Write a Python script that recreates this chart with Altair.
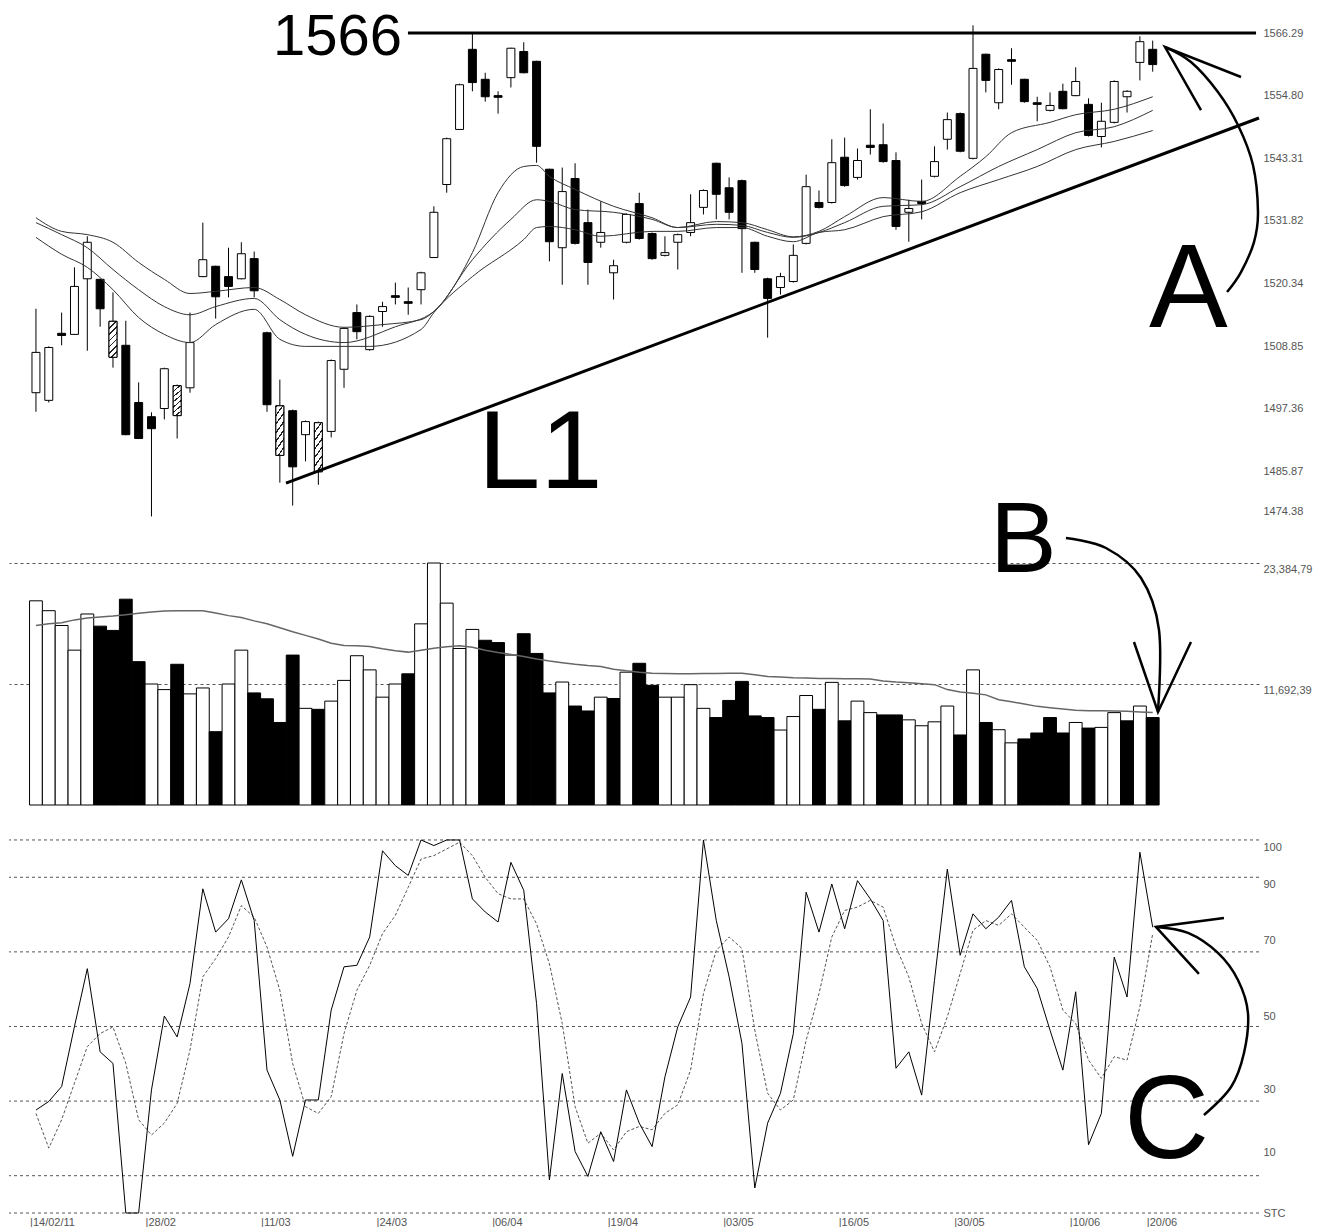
import altair as alt
import pandas as pd

# ---------------- data ----------------
N = 88
bar_idx = list(range(N))

opens = [1500.3,1498.9,1511.2,1511.0,1521.2,1521.1,1513.4,1509.0,1498.5,1495.9,
         1497.4,1501.6,1501.2,1521.6,1523.5,1521.6,1521.2,1524.9,1511.3,1497.9,
         1497.0,1492.6,1494.8,1493.2,1504.6,1515.0,1508.2,1515.2,1518.1,1517.0,
         1519.2,1525.1,1538.5,1548.6,1563.3,1557.8,1554.8,1558.1,1562.9,1561.1,
         1541.3,1526.9,1539.6,1531.5,1527.9,1522.3,1527.9,1535.0,1529.5,1525.5,
         1527.9,1529.7,1534.3,1542.4,1537.9,1539.2,1527.9,1521.2,1519.6,1520.7,
         1527.7,1535.2,1535.2,1543.5,1539.8,1545.7,1545.8,1542.9,1533.4,1535.4,
         1540.0,1546.8,1551.5,1543.3,1562.4,1553.5,1561.4,1557.8,1553.5,1552.1,
         1555.6,1554.8,1553.2,1547.3,1549.9,1554.6,1560.9,1563.3]
closes = [1507.7,1508.6,1510.8,1519.8,1527.9,1515.7,1506.8,1492.6,1491.9,1493.7,
          1504.7,1496.1,1509.5,1524.7,1517.9,1519.8,1525.8,1519.0,1498.1,1488.8,
          1486.7,1495.0,1485.8,1506.2,1512.1,1511.5,1514.3,1516.1,1517.8,1516.7,
          1522.3,1533.4,1546.9,1556.8,1557.2,1554.6,1554.5,1563.5,1559.0,1545.5,
          1528.0,1537.2,1527.7,1524.2,1529.7,1523.6,1533.0,1528.6,1524.9,1526.0,
          1529.3,1531.5,1537.4,1536.7,1533.4,1530.4,1522.9,1517.6,1521.6,1525.5,
          1538.1,1534.3,1542.5,1538.3,1542.9,1545.3,1542.7,1530.8,1534.1,1535.0,
          1542.7,1550.4,1544.6,1559.8,1557.6,1559.6,1561.1,1553.7,1553.2,1553.0,
          1552.4,1557.4,1547.5,1550.1,1557.4,1555.6,1564.7,1560.5]
highs = [1515.7,1508.8,1515.0,1523.3,1529.0,1521.2,1518.7,1513.5,1502.2,1496.7,
         1504.9,1501.8,1515.0,1531.5,1523.6,1526.9,1527.9,1526.2,1511.5,1502.7,
         1497.2,1495.2,1495.0,1506.4,1512.3,1516.5,1514.5,1517.0,1520.5,1519.6,
         1522.5,1534.5,1547.1,1557.0,1566.3,1559.0,1555.6,1563.6,1564.6,1561.2,
         1541.4,1541.6,1542.4,1533.9,1535.4,1524.7,1533.2,1537.0,1529.7,1529.0,
         1529.5,1536.7,1537.6,1542.5,1539.8,1539.4,1528.0,1521.4,1522.3,1527.5,
         1540.3,1537.4,1546.8,1547.1,1545.1,1552.3,1549.7,1544.4,1535.7,1539.4,
         1545.5,1551.7,1551.7,1567.7,1562.5,1559.8,1563.5,1557.9,1554.6,1555.4,
         1557.0,1560.0,1554.3,1553.5,1557.6,1555.8,1565.7,1564.9]
lows = [1496.8,1498.5,1509.0,1510.9,1508.0,1512.4,1504.9,1492.5,1491.8,1477.6,
        1495.4,1491.9,1500.3,1521.5,1513.9,1517.8,1521.1,1517.8,1496.8,1483.8,
        1479.6,1487.7,1483.4,1492.1,1501.2,1510.1,1508.0,1512.4,1516.5,1514.6,
        1516.5,1525.0,1537.0,1548.5,1555.6,1553.7,1551.5,1556.3,1558.9,1542.5,
        1524.4,1520.1,1527.5,1520.1,1526.9,1517.4,1527.7,1528.4,1524.7,1525.3,
        1522.9,1529.0,1533.0,1532.1,1532.1,1522.3,1522.3,1510.4,1518.3,1520.5,
        1527.5,1534.1,1535.0,1538.1,1539.4,1544.0,1542.5,1530.2,1528.0,1532.1,
        1539.8,1544.9,1544.4,1543.1,1555.4,1552.3,1556.8,1553.5,1550.1,1551.9,
        1552.3,1554.7,1547.3,1545.3,1549.7,1551.7,1557.6,1559.2]
# w = white (up), b = black (down), h = hatched
candle_kind = list("wwbwwbhbbb" "whwwbbwbbh" "bwhwwbwwbb" "wwwwbbbwbb" "bwbbwwwbbw"
                   "wwwbbbbbww" "wbwbwbbbwb" "wwbwbwbbbw" "bwbwwwwb")

# three moving averages on the price panel (bar index, value)
ma1_idx = [0,2,4,6,8,10,12,14,17,19,21,24,27,30,31,34,36,38,39,40,42,45,48,50,53,55,57,59,61,63,66,69,72,74,76,79,81,84,87]
ma1_val = [1532.4,1529.9,1529.3,1527.9,1524.2,1521.1,1518.5,1518.9,1519.6,1517.4,1514.6,1512.3,1512.8,1513.7,1515.2,
           1526.0,1537.0,1541.8,1542.0,1540.0,1537.6,1534.5,1532.4,1530.6,1531.7,1531.5,1530.2,1528.9,1529.9,1532.6,
           1536.1,1535.4,1540.0,1543.6,1548.0,1549.9,1551.3,1552.3,1554.6]
ma2_idx = [0,2,4,6,8,10,12,14,17,19,21,24,28,31,34,37,39,40,42,45,48,50,53,55,57,59,61,63,66,69,72,75,78,81,84,87]
ma2_val = [1531.5,1529.3,1526.9,1522.9,1519.2,1516.1,1514.6,1516.1,1517.6,1513.7,1511.0,1509.5,1512.4,1515.2,1524.7,
           1532.1,1535.7,1535.4,1533.9,1533.4,1532.1,1530.6,1531.2,1531.0,1529.7,1528.8,1529.7,1531.5,1534.5,1534.8,
           1538.1,1541.8,1544.9,1548.0,1549.1,1552.1]
ma3_idx = [0,2,4,6,8,10,12,14,17,19,21,26,30,31,34,38,39,40,42,44,48,50,53,55,57,59,61,63,66,69,72,75,78,81,84,87]
ma3_val = [1528.8,1525.7,1523.3,1519.2,1514.1,1511.0,1509.5,1512.8,1515.6,1510.1,1508.8,1508.8,1511.9,1515.0,1521.6,
           1528.4,1530.6,1530.8,1530.2,1529.0,1529.9,1529.9,1530.6,1530.6,1529.0,1528.0,1529.7,1530.2,1532.6,1533.5,
           1537.0,1539.4,1541.8,1544.9,1546.4,1548.4]

volume = [19730,18776,17346,14964,18458,17283,16870,19888,13852,11692,
          11151,13598,10738,11310,7085,11692,14964,10833,10262,7974,
          14487,9340,9245,10039,12041,14424,13057,10420,11692,12676,
          17505,23384,19507,15123,16965,15917,15694,14487,16552,14646,
          10833,11882,9563,9086,10420,10293,12835,13693,11564,10421,
          10421,11628,9340,8451,10103,11946,8610,8451,7244,8546,
          10579,9245,11850,8133,10039,8927,8705,8705,8228,7657,
          8038,9563,6767,13057,7974,7275,6005,6386,6958,8451,
          6958,7974,7434,7498,8927,8133,9563,8451]
volume_kind = list("wwwwwbbbbw" "wbwwbwwbbb" "bwbwwwwwwb" "wwwwwbbwbb" "bwbbwbwbbw"
                   "wwwbbbbbww" "wbwbwwbbww" "wwbwbwwbbb" "bwbwwbwb")
volume_ma = [17346,17505,17601,17887,18077,18172,18268,18395,18522,18649,
             18744,18776,18776,18776,18554,18300,18109,17791,17505,17124,
             16743,16393,16044,15631,15408,15377,15313,15091,14900,14773,
             14964,15154,15281,15377,15250,14964,14741,14551,14360,14106,
             13915,13756,13598,13470,13375,13121,12962,12835,12740,12708,
             12676,12676,12708,12708,12740,12740,12581,12422,12359,12295,
             12263,12231,12231,12200,12200,12168,11977,11882,11818,11723,
             11628,11151,10929,10802,10643,10166,9976,9753,9531,9404,
             9277,9150,9118,9118,9086,9054,8991,8927]

stoch_k = [27.6,29.9,33.9,50.0,65.5,43.2,40.1,0.0,0.0,33.0,
           52.8,47.2,61.5,86.9,75.3,78.9,89.3,78.4,38.3,30.3,
           15.2,30.3,30.3,54.4,66.0,66.4,74.0,97.1,93.1,90.5,
           100.0,98.5,100.0,100.0,84.2,80.7,78.0,94.0,86.5,56.1,
           8.9,37.4,16.5,9.8,21.8,13.8,33.0,24.1,17.8,36.5,
           49.9,57.9,100.0,78.4,63.3,45.5,6.7,24.1,32.1,48.1,
           86.0,75.3,88.2,76.2,89.1,84.2,78.4,38.8,43.2,31.6,
           62.4,92.2,69.1,80.2,76.2,79.3,83.8,66.0,60.2,49.0,
           38.3,59.3,18.3,26.7,68.6,57.9,96.7,76.6]
stoch_d = [26.7,17.4,25.0,34.8,44.6,48.1,49.9,40.1,25.0,20.9,
           24.1,29.4,43.7,63.3,68.2,74.0,82.4,79.3,71.3,59.7,
           40.1,28.5,26.7,31.2,48.1,59.7,66.4,74.9,79.8,87.3,
           94.9,95.8,97.6,99.4,95.8,90.0,85.6,84.2,84.2,77.5,
           66.8,50.8,28.5,18.7,21.4,16.9,21.8,23.2,22.3,26.7,
           29.0,38.3,58.8,70.4,74.0,70.9,49.0,32.1,27.6,30.3,
           46.3,58.8,74.0,81.1,82.0,83.8,82.0,71.3,63.3,50.8,
           43.2,52.6,64.2,75.8,78.4,77.1,80.2,76.6,73.1,66.0,
           54.4,50.8,41.0,36.1,41.9,41.0,55.3,74.9]

price_ticks = [1566.29, 1554.80, 1543.31, 1531.82, 1520.34, 1508.85, 1497.36, 1485.87, 1474.38]
volume_ticks = [11692.39, 23384.79]
volume_tick_labels = ["11,692,39", "23,384,79"]
stoch_grid = [0, 10, 30, 50, 70, 90, 100]
# the oscillator labels sit a little off their grid lines in the original
stoch_label_pos = [0, 16.1, 33.0, 52.8, 73.0, 88.0, 97.9]
stoch_label_txt = ["STC", "10", "30", "50", "70", "90", "100"]
date_bars = [0, 9, 18, 27, 36, 45, 54, 63, 72, 81, 87]
date_labels = ["14/02/11", "28/02", "11/03", "24/03", "06/04", "19/04",
               "03/05", "16/05", "30/05", "10/06", "20/06"]

# annotations
resistance = {"x": [28.98], "x2": [95.05], "y": [1566.29]}
trend_L1 = {"x": [19.48], "y": [1483.72], "x2": [95.28], "y2": [1550.70]}
price_texts = {"x": [18.46, 34.43, 86.71], "y": [1562.26, 1482.81, 1512.35],
               "t": ["1566", "L1", "A"], "s": [58, 112, 118]}
arrowA_x = [92.79, 93.88, 94.89, 95.20, 94.81, 93.64, 92.08, 89.98, 87.96]
arrowA_y = [1518.77, 1522.44, 1527.94, 1533.45, 1542.07, 1549.41, 1555.47, 1560.97, 1563.72]
headA_x = [93.88, 87.96, 90.76]
headA_y = [1558.22, 1563.72, 1552.16]

textB = {"x": [74.32], "y": [22515], "t": ["B"]}
arrowB_x = [80.24, 83.36, 86.09, 87.49, 87.41]
arrowB_y = [25800, 24834, 21935, 16910, 8987]
headB_x = [85.54, 87.41, 89.98]
headB_y = [15751, 8987, 15751]

textC = {"x": [84.76], "y": [14.75], "t": ["C"]}
arrowC_x = [90.99, 93.10, 94.11, 94.42, 93.64, 92.08, 89.75, 87.25]
arrowC_y = [26.27, 33.78, 42.90, 53.62, 62.47, 69.71, 75.07, 76.68]
headC_x = [92.55, 87.25, 90.60]
headC_y = [79.09, 76.68, 64.08]

# ---------------- tables ----------------
candles = pd.DataFrame({"idx": bar_idx, "open": opens, "high": highs, "low": lows,
                        "close": closes, "kind": candle_kind})
ma = pd.concat([
    pd.DataFrame({"idx": ma1_idx, "val": ma1_val, "s": "m1"}),
    pd.DataFrame({"idx": ma2_idx, "val": ma2_val, "s": "m2"}),
    pd.DataFrame({"idx": ma3_idx, "val": ma3_val, "s": "m3"}),
])
vol = pd.DataFrame({"idx": bar_idx, "vol": volume, "kind": volume_kind, "ma": volume_ma})
stoch = pd.DataFrame({"idx": bar_idx, "k": stoch_k, "d": stoch_d})
sgrid = pd.DataFrame({"g": stoch_grid})

def curve(xs_, ys_):
    return pd.DataFrame({"x": xs_, "y": ys_, "o": list(range(len(xs_)))})

ANN_FONT = "Liberation Sans, Arial, sans-serif"
LBL_FONT = "Liberation Sans, Arial, sans-serif"

W = 1250
xs = alt.Scale(domain=[-2.1, 95.28], nice=False, zero=False)
ys_p = alt.Scale(domain=[1474.38, 1570.88], nice=False, zero=False)
ys_v = alt.Scale(domain=[0, 23384.79], nice=False, zero=False)
ys_s = alt.Scale(domain=[0, 101.6], nice=False, zero=False)

axis_common = dict(orient="right", title=None, domain=False, ticks=False, labelPadding=4,
                   labelFontSize=11, labelColor="#555555", labelFont=LBL_FONT)
p_axis = alt.Axis(values=price_ticks, format=".2f", grid=False, labelFlush=True,
                  labelFlushOffset=-18, **axis_common)
v_expr = f"datum.value > 17000 ? '{volume_tick_labels[1]}' : '{volume_tick_labels[0]}'"
v_axis = alt.Axis(values=volume_ticks, labelExpr=v_expr, grid=True, gridDash=[3, 3],
                  gridColor="#555555", gridWidth=1, labelOffset=6, **axis_common)
s_expr = ("[" + ",".join(f"'{t}'" for t in stoch_label_txt) + "][indexof(["
          + ",".join(str(v) for v in stoch_label_pos) + "], datum.value)]")
s_axis = alt.Axis(values=stoch_label_pos, labelExpr=s_expr, grid=False, **axis_common)
date_vals = [b - 0.5 for b in date_bars]
d_expr = ("[" + ",".join(f"'|{l}'" for l in date_labels) + "][indexof(["
          + ",".join(str(v) for v in date_vals) + "], datum.value)]")
x_axis = alt.Axis(values=date_vals, labelExpr=d_expr, labelAlign="left", labelFlush=False,
                  labelOverlap=False, grid=False, domain=False, ticks=False, labelPadding=3,
                  title=None, labelFontSize=11, labelColor="#555555", labelFont=LBL_FONT)

fill_scale = alt.Scale(domain=["w", "b", "h"], range=["white", "black", "#bdbdbd"])

# diagonal hatching for the hatched candles (bounding-box gradient, ~45 degree stripes)
period = 1.0 / 7
hatch_stops = []
for k in range(7):
    a = k * period
    hatch_stops += [alt.GradientStop(color="#222222", offset=a),
                    alt.GradientStop(color="#222222", offset=a + 0.035),
                    alt.GradientStop(color="white", offset=a + 0.035),
                    alt.GradientStop(color="white", offset=a + period)]
hatch = alt.LinearGradient(gradient="linear", x1=0, y1=0, x2=0.26, y2=1.16, stops=hatch_stops)

# ---------------- price panel ----------------
wicks = alt.Chart(candles).mark_rule(color="black", strokeWidth=1).encode(
    x=alt.X("idx:Q", scale=xs, axis=None),
    y=alt.Y("low:Q", scale=ys_p, axis=p_axis), y2="high:Q")
body_calc = dict(x0="datum.idx - 0.31", x1="datum.idx + 0.31",
                 top="max(datum.open, datum.close)", bot="min(datum.open, datum.close)")
bodies = alt.Chart(candles).transform_calculate(**body_calc).mark_bar(
    stroke="black", strokeWidth=1).encode(
    x=alt.X("x0:Q", scale=xs, axis=None), x2="x1:Q",
    y=alt.Y("bot:Q", scale=ys_p, axis=p_axis), y2="top:Q",
    fill=alt.Fill("kind:N", scale=fill_scale, legend=None))
hatched = alt.Chart(candles).transform_filter("datum.kind == 'h'").transform_calculate(
    **body_calc).mark_bar(stroke="black", strokeWidth=1, fill=hatch).encode(
    x=alt.X("x0:Q", scale=xs, axis=None), x2="x1:Q",
    y=alt.Y("bot:Q", scale=ys_p, axis=p_axis), y2="top:Q")
ma_lines = alt.Chart(ma).mark_line(color="#333333", strokeWidth=1, interpolate="monotone").encode(
    x=alt.X("idx:Q", scale=xs, axis=None), y=alt.Y("val:Q", scale=ys_p, axis=p_axis),
    detail="s:N")
res_line = alt.Chart(pd.DataFrame(resistance)).mark_rule(color="black", strokeWidth=3).encode(
    x=alt.X("x:Q", scale=xs, axis=None), x2="x2:Q", y=alt.Y("y:Q", scale=ys_p, axis=p_axis))
l1_line = alt.Chart(pd.DataFrame(trend_L1)).mark_rule(color="black", strokeWidth=3).encode(
    x=alt.X("x:Q", scale=xs, axis=None), x2="x2:Q",
    y=alt.Y("y:Q", scale=ys_p, axis=p_axis), y2="y2:Q")
p_texts = alt.Chart(pd.DataFrame(price_texts)).mark_text(
    font=ANN_FONT, align="left", baseline="alphabetic", color="black").encode(
    x=alt.X("x:Q", scale=xs, axis=None), y=alt.Y("y:Q", scale=ys_p, axis=p_axis),
    text="t:N", size=alt.Size("s:Q", scale=None, legend=None))
arrA = alt.Chart(curve(arrowA_x, arrowA_y)).mark_line(
    color="black", strokeWidth=2.5, interpolate="cardinal").encode(
    x=alt.X("x:Q", scale=xs, axis=None), y=alt.Y("y:Q", scale=ys_p, axis=p_axis), order="o:Q")
headA = alt.Chart(curve(headA_x, headA_y)).mark_line(color="black", strokeWidth=2.5).encode(
    x=alt.X("x:Q", scale=xs, axis=None), y=alt.Y("y:Q", scale=ys_p, axis=p_axis), order="o:Q")

price_panel = alt.layer(wicks, bodies, hatched, ma_lines, res_line, l1_line, p_texts,
                        arrA, headA).properties(width=W, height=526)

# ---------------- volume panel ----------------
vbars = alt.Chart(vol).transform_calculate(
    x0="datum.idx - 0.5", x1="datum.idx + 0.5", z="0"
).mark_bar(stroke="black", strokeWidth=1).encode(
    x=alt.X("x0:Q", scale=xs, axis=None), x2="x1:Q",
    y=alt.Y("vol:Q", scale=ys_v, axis=v_axis), y2="z:Q",
    fill=alt.Fill("kind:N", scale=fill_scale, legend=None))
vma = alt.Chart(vol).mark_line(color="#666666", strokeWidth=1.5).encode(
    x=alt.X("idx:Q", scale=xs, axis=None), y=alt.Y("ma:Q", scale=ys_v, axis=v_axis))
tB = alt.Chart(pd.DataFrame(textB)).mark_text(
    font=ANN_FONT, align="left", baseline="alphabetic", color="black", fontSize=100).encode(
    x=alt.X("x:Q", scale=xs, axis=None), y=alt.Y("y:Q", scale=ys_v, axis=v_axis), text="t:N")
arrB = alt.Chart(curve(arrowB_x, arrowB_y)).mark_line(
    color="black", strokeWidth=2.5, interpolate="cardinal").encode(
    x=alt.X("x:Q", scale=xs, axis=None), y=alt.Y("y:Q", scale=ys_v, axis=v_axis), order="o:Q")
headB = alt.Chart(curve(headB_x, headB_y)).mark_line(color="black", strokeWidth=2.5).encode(
    x=alt.X("x:Q", scale=xs, axis=None), y=alt.Y("y:Q", scale=ys_v, axis=v_axis), order="o:Q")

volume_panel = alt.layer(vbars, vma, tB, arrB, headB).properties(width=W, height=242)

# ---------------- stochastic panel ----------------
grid_s = alt.Chart(sgrid).mark_rule(color="#555555", strokeWidth=1, strokeDash=[3, 3]).encode(
    y=alt.Y("g:Q", scale=ys_s, axis=s_axis))
k_line = alt.Chart(stoch).mark_line(color="black", strokeWidth=1).encode(
    x=alt.X("idx:Q", scale=xs, axis=x_axis), y=alt.Y("k:Q", scale=ys_s, axis=s_axis))
d_line = alt.Chart(stoch).mark_line(color="#555555", strokeWidth=1, strokeDash=[3, 2]).encode(
    x=alt.X("idx:Q", scale=xs, axis=x_axis), y=alt.Y("d:Q", scale=ys_s, axis=s_axis))
tC = alt.Chart(pd.DataFrame(textC)).mark_text(
    font=ANN_FONT, align="left", baseline="alphabetic", color="black", fontSize=118).encode(
    x=alt.X("x:Q", scale=xs, axis=x_axis), y=alt.Y("y:Q", scale=ys_s, axis=s_axis), text="t:N")
arrC = alt.Chart(curve(arrowC_x, arrowC_y)).mark_line(
    color="black", strokeWidth=2.5, interpolate="cardinal").encode(
    x=alt.X("x:Q", scale=xs, axis=x_axis), y=alt.Y("y:Q", scale=ys_s, axis=s_axis), order="o:Q")
headC = alt.Chart(curve(headC_x, headC_y)).mark_line(color="black", strokeWidth=2.5).encode(
    x=alt.X("x:Q", scale=xs, axis=x_axis), y=alt.Y("y:Q", scale=ys_s, axis=s_axis), order="o:Q")

stoch_panel = alt.layer(grid_s, d_line, k_line, tC, arrC, headC).properties(width=W, height=379)

chart = alt.vconcat(price_panel, volume_panel, stoch_panel, spacing=29, bounds="flush").properties(
    padding={"left": 0, "top": 0, "right": 5, "bottom": 0}, background="white"
).configure_view(strokeWidth=0, stroke=None)

chart.save("out.html", embed_options={"renderer": "svg", "actions": False})
